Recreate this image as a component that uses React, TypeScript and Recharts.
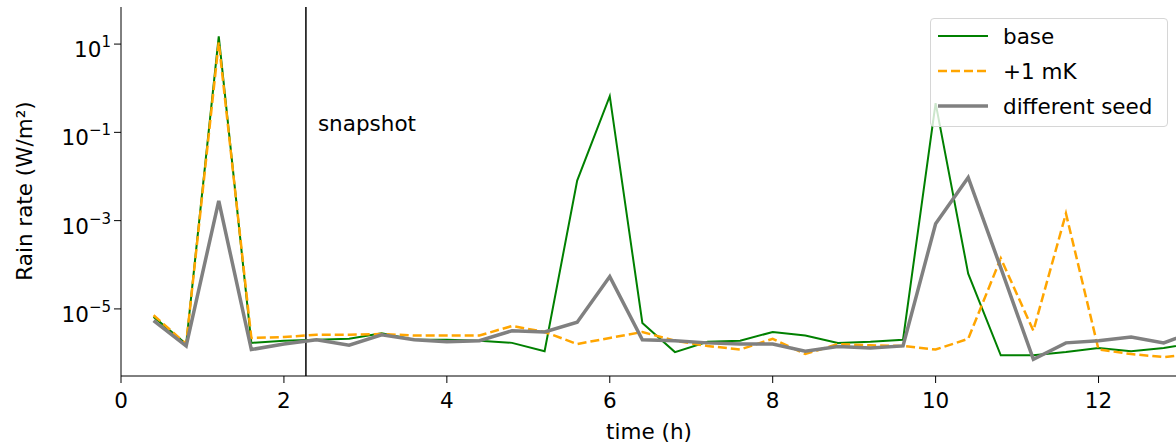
import { LineChart, Line, XAxis, YAxis, ReferenceLine } from "recharts"

const times = [
  0.4, 0.8, 1.2, 1.6, 2.0, 2.4, 2.8, 3.2, 3.6, 4.0, 4.4, 4.8, 5.2, 5.6, 6.0, 6.4, 6.8,
  7.2, 7.6, 8.0, 8.4, 8.8, 9.2, 9.6, 10.0, 10.4, 10.8, 11.2, 11.6, 12.0, 12.4, 12.8, 13.2,
]

const base = [
  6.6e-6, 1.6e-6, 15, 1.7e-6, 1.9e-6, 2.0e-6, 2.1e-6, 2.8e-6, 2.0e-6, 2.0e-6, 1.9e-6,
  1.7e-6, 1.1e-6, 8.1e-3, 0.66, 4.8e-6, 1.05e-6, 1.8e-6, 1.9e-6, 3.0e-6, 2.5e-6, 1.7e-6,
  1.8e-6, 2.0e-6, 0.46, 6.3e-5, 8.9e-7, 8.9e-7, 1.05e-6, 1.3e-6, 1.1e-6, 1.3e-6, 1.7e-6,
]

const plus1mK = [
  7.2e-6, 1.6e-6, 11, 2.2e-6, 2.3e-6, 2.6e-6, 2.6e-6, 2.7e-6, 2.5e-6, 2.5e-6, 2.5e-6,
  4.1e-6, 3.0e-6, 1.6e-6, 2.2e-6, 3.0e-6, 1.9e-6, 1.45e-6, 1.2e-6, 2.1e-6, 9.5e-7, 1.6e-6,
  1.5e-6, 1.45e-6, 1.2e-6, 2.1e-6, 1.4e-4, 3.2e-6, 1.45e-3, 1.2e-6, 9.5e-7, 8.1e-7, 9.5e-7,
]

const diffSeed = [
  5.4e-6, 1.45e-6, 2.8e-3, 1.2e-6, 1.6e-6, 2.0e-6, 1.5e-6, 2.6e-6, 2.0e-6, 1.8e-6, 1.9e-6,
  3.2e-6, 3.0e-6, 5.0e-6, 5.4e-5, 2.0e-6, 1.9e-6, 1.7e-6, 1.6e-6, 1.6e-6, 1.1e-6, 1.4e-6,
  1.3e-6, 1.45e-6, 8.5e-4, 9.5e-3, 8.5e-5, 7.2e-7, 1.7e-6, 1.9e-6, 2.3e-6, 1.7e-6, 3.2e-6,
]

const xTicks = [0, 2, 4, 6, 8, 10, 12]
const yTicks = [1e-5, 1e-3, 1e-1, 10]
const snapshotTime = 2.27

const data = times.map((t, i) => ({
  t,
  base: base[i],
  plus1mK: plus1mK[i],
  diffSeed: diffSeed[i],
}))

const font = "DejaVu Sans, sans-serif"
const fs = 21.5

const XTick = ({ x, y, payload }: any) => (
  <text x={x} y={y + 22} textAnchor="middle" fontSize={fs} fontFamily={font} fill="#000">
    {payload.value}
  </text>
)

const YTick = ({ x, y, payload }: any) => {
  const e = Math.round(Math.log10(payload.value))
  const exp = e < 0 ? `\u2212${-e}` : `${e}`
  return (
    <text x={x} y={y + 13} textAnchor="end" fontSize={fs} fontFamily={font} fill="#000">
      <tspan>10</tspan>
      <tspan dy={-10} fontSize={15}>{exp}</tspan>
    </text>
  )
}

const legendItems = [
  { label: "base", color: "#008000", width: 2, dash: undefined },
  { label: "+1 mK", color: "#FFA500", width: 2.5, dash: "9 4" },
  { label: "different seed", color: "#808080", width: 3.5, dash: undefined },
]

export default function App() {
  return (
    <div
      style={{
        position: "absolute",
        left: 0,
        top: 0,
        width: 1176,
        height: 445,
        overflow: "hidden",
        background: "#fff",
      }}
    >
      <LineChart width={1180} height={445} data={data} margin={{ top: 7, right: 0, bottom: 0, left: 0 }}>
        <XAxis
          dataKey="t"
          type="number"
          domain={[0, 13]}
          allowDataOverflow
          ticks={xTicks}
          tick={<XTick />}
          tickSize={7}
          tickMargin={3}
          height={69}
          stroke="#000"
          tickLine={{ stroke: "#000" }}
          label={({ viewBox }: any) => (
            <text x={649} y={viewBox.y + 63} textAnchor="middle" fontSize={fs} fontFamily={font} fill="#000">
              time (h)
            </text>
          )}
        />
        <XAxis
          xAxisId="top"
          dataKey="t"
          type="number"
          orientation="top"
          domain={[0, 13]}
          allowDataOverflow
          height={0}
          tick={false}
          tickLine={false}
          stroke="#000"
        />
        <YAxis
          scale="log"
          type="number"
          domain={[3.02e-7, 69.2]}
          allowDataOverflow
          ticks={yTicks}
          tick={<YTick />}
          tickSize={7}
          tickMargin={3}
          width={121}
          stroke="#000"
          tickLine={{ stroke: "#000" }}
          interval={0}
          label={() => (
            <text
              x={32}
              y={191}
              transform="rotate(-90 32 191)"
              textAnchor="middle"
              fontSize={fs}
              fontFamily={font}
              fill="#000"
            >
              Rain rate (W/m²)
            </text>
          )}
        />
        <ReferenceLine
          x={snapshotTime}
          stroke="#000"
          strokeWidth={1.5}
          label={({ viewBox }: any) => (
            <text x={viewBox.x + 12} y={viewBox.y + 124} fontSize={fs} fontFamily={font} fill="#000">
              snapshot
            </text>
          )}
        />
        <Line
          type="linear"
          dataKey="base"
          stroke="#008000"
          strokeWidth={2}
          dot={false}
          isAnimationActive={false}
        />
        <Line
          type="linear"
          dataKey="plus1mK"
          stroke="#FFA500"
          strokeWidth={2.5}
          strokeDasharray="9 4"
          dot={false}
          isAnimationActive={false}
        />
        <Line
          type="linear"
          dataKey="diffSeed"
          stroke="#808080"
          strokeWidth={3.5}
          dot={false}
          isAnimationActive={false}
        />
      </LineChart>
      <div
        style={{
          position: "absolute",
          left: 930,
          top: 18,
          width: 238,
          height: 109,
          boxSizing: "border-box",
          background: "rgba(255,255,255,0.8)",
          border: "1px solid #d6d6d6",
          borderRadius: 4,
        }}
      >
        <svg width={238} height={109}>
          {legendItems.map((item, i) => (
            <g key={item.label}>
              <line
                x1={7}
                x2={57}
                y1={17 + i * 35}
                y2={17 + i * 35}
                stroke={item.color}
                strokeWidth={item.width}
                strokeDasharray={item.dash}
              />
              <text x={72} y={25 + i * 35} fontSize={fs} fontFamily={font} fill="#000">
                {item.label}
              </text>
            </g>
          ))}
        </svg>
      </div>
    </div>
  )
}
